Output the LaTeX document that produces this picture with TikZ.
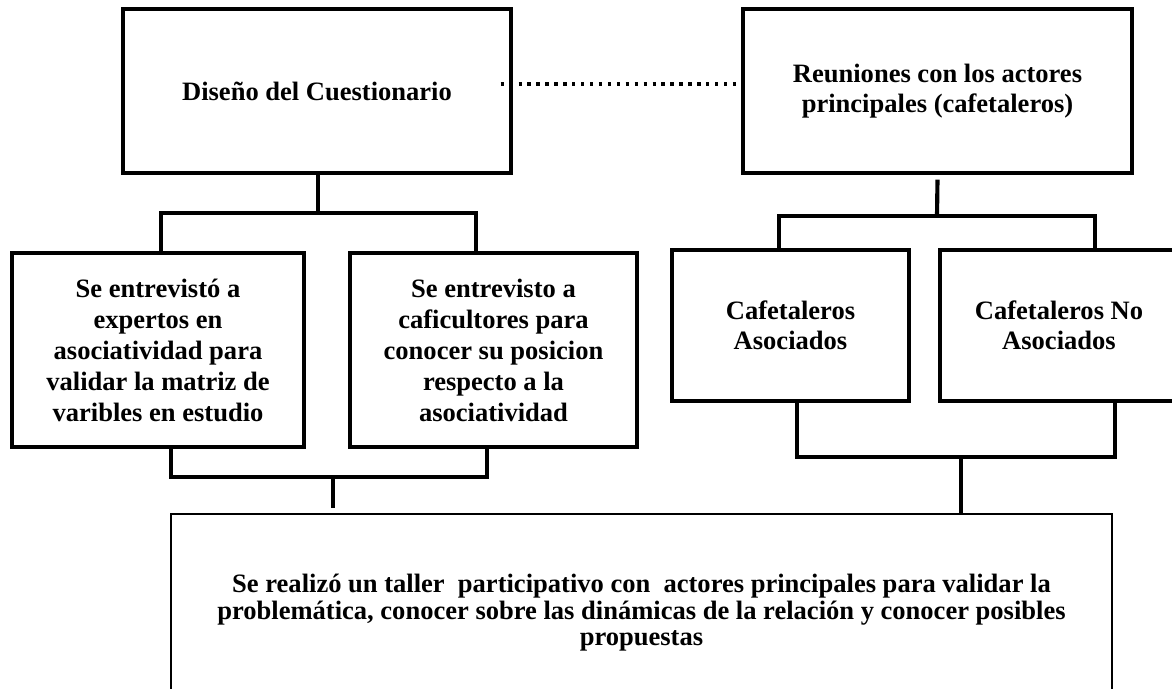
\documentclass[tikz,border=0pt]{standalone}
\usepackage{fontspec}
\setmainfont{Liberation Serif}
\usetikzlibrary{calc}
\tikzset{
  box/.style={draw, line width=2.5pt, rectangle, inner sep=0pt, align=center,
    font=\bfseries\fontsize{19.9}{22.5}\selectfont},
  conn/.style={draw, line width=3.1pt},
  dotline/.style={draw, line width=2.5pt, dash pattern=on 2.5pt off 4.2pt},
}
\begin{document}
\begin{tikzpicture}[x=0.75pt, y=-0.75pt]
\useasboundingbox (0,0) rectangle (1172,689);
\clip (0,0) rectangle (1172,689);

\node[box, minimum width=291pt, minimum height=123pt] (A) at (317,91) {Diseño del Cuestionario};
\node[box, minimum width=291.75pt, minimum height=123pt] (B) at (937.5,91)
  {\rule{0pt}{6pt}Reuniones con los actores\\principales (cafetaleros)};
\node[box, minimum width=219pt, minimum height=145.5pt,
  font=\bfseries\fontsize{19.9}{23.25}\selectfont] (C) at (158,350)
  {Se entrevistó a\\expertos en\\asociatividad para\\validar la matriz de\\varibles en estudio};
\node[box, minimum width=215.25pt, minimum height=145.5pt,
  font=\bfseries\fontsize{19.9}{23.25}\selectfont] (D) at (493.5,350)
  {Se entrevisto a\\caficultores para\\conocer su posicion\\respecto a la\\asociatividad};
\node[box, minimum width=177.75pt, minimum height=113.25pt] (E) at (790.5,325.5)
  {Cafetaleros\\Asociados};
\node[box, minimum width=178.5pt, minimum height=113.25pt] (F) at (1059,325.5)
  {Cafetaleros No\\Asociados};
\node[box, line width=2pt, minimum width=705.75pt, minimum height=148.5pt,
  font=\bfseries\fontsize{19.9}{19.9}\selectfont] (G) at (641.5,613)
  {Se realizó un taller\ \ participativo con\ \ actores principales para validar la\\problemática, conocer sobre las dinámicas de la relación y conocer posibles\\propuestas};

\coordinate (ja) at (318,213);
\coordinate (ja1) at (161,213);
\coordinate (ja2) at (476,213);
\coordinate (jb) at (937,216);
\coordinate (jb1) at (779,216);
\coordinate (jb2) at (1095,216);
\coordinate (jc) at (333,477);
\coordinate (jc1) at (171,477);
\coordinate (jc2) at (487,477);
\coordinate (je) at (961,457);
\coordinate (je1) at (797,457);
\coordinate (je2) at (1115,457);

\draw[dotline] ([xshift=-9pt,yshift=5.25pt]A.east) -- ([xshift=-2pt,yshift=5.25pt]B.west);

\draw[conn] (A.south -| ja) -- (ja);
\draw[conn] (ja1 |- C.north) -- (ja1) -- (ja2) -- (ja2 |- D.north);
\draw[conn] ($(B.south)+(0,5)$) -- (jb);
\draw[conn] (jb1 |- E.north) -- (jb1) -- (jb2) -- (jb2 |- F.north);
\draw[conn] (jc1 |- C.south) -- (jc1) -- (jc2) -- (jc2 |- D.south);
\draw[conn] (jc) -- ($(jc |- G.north)+(0,-5)$);
\draw[conn] (je1 |- E.south) -- (je1) -- (je2) -- (je2 |- F.south);
\draw[conn] (je) -- (je |- G.north);
\end{tikzpicture}
\end{document}
